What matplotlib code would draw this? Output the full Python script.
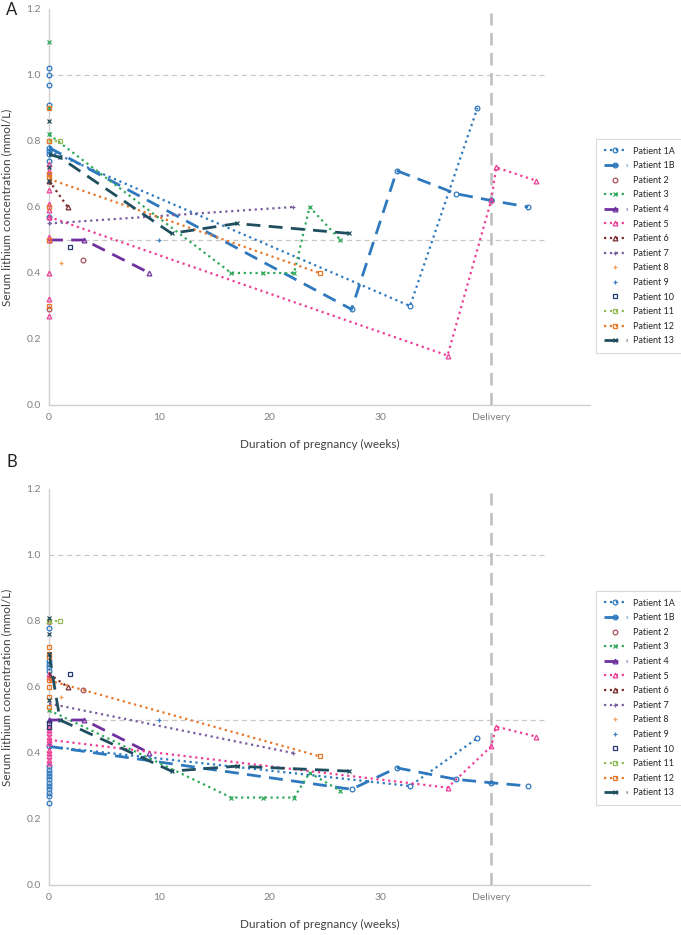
import matplotlib
matplotlib.use("Agg")
import matplotlib.pyplot as plt

plt.rcParams['font.family'] = ['Lato', 'DejaVu Sans']

# ---------------- data ----------------
patients = ["Patient 1A", "Patient 1B", "Patient 2", "Patient 3", "Patient 4", "Patient 5",
            "Patient 6", "Patient 7", "Patient 8", "Patient 9", "Patient 10", "Patient 11",
            "Patient 12", "Patient 13"]

# weeks of pregnancy for each series
w_1A = [0, 32.7, 38.8]
w_1B = [0, 27.4, 31.5, 36.9, 40.0, 43.4]
w_2 = [3.1]
w_3 = [0, 16.5, 19.4, 22.2, 23.6, 26.4]
w_4 = [0, 3.2, 9.1]
w_5 = [0, 36.1, 40.05, 40.5, 44.1]
w_6 = [0, 1.7]
w_7 = [0, 22.1]
w_8 = [1.1]
w_9 = [10.0]
w_10 = [1.9]
w_11 = [0, 1.0]
w_12 = [0, 24.5]
w_13 = [0, 1.0, 11.1, 17.0, 27.2]

# panel A: serum lithium concentration (mmol/L)
A_1A = [0.77, 0.30, 0.90]
A_1B = [0.78, 0.29, 0.71, 0.64, 0.62, 0.60]
A_2 = [0.44]
A_3 = [0.82, 0.40, 0.40, 0.40, 0.60, 0.50]
A_4 = [0.50, 0.50, 0.40]
A_5 = [0.57, 0.15, 0.62, 0.72, 0.68]
A_6 = [0.68, 0.60]
A_7 = [0.55, 0.60]
A_8 = [0.43]
A_9 = [0.50]
A_10 = [0.48]
A_11 = [0.80, 0.80]
A_12 = [0.685, 0.40]
A_13 = [0.76, 0.75, 0.52, 0.55, 0.52]

# panel B
B_1A = [0.42, 0.30, 0.445]
B_1B = [0.42, 0.29, 0.355, 0.32, 0.31, 0.30]
B_2 = [0.59]
B_3 = [0.53, 0.265, 0.265, 0.265, 0.34, 0.285]
B_4 = [0.50, 0.50, 0.40]
B_5 = [0.44, 0.295, 0.42, 0.48, 0.45]
B_6 = [0.64, 0.60]
B_7 = [0.55, 0.40]
B_8 = [0.57]
B_9 = [0.50]
B_10 = [0.64]
B_11 = [0.80, 0.80]
B_12 = [0.62, 0.39]
B_13 = [0.70, 0.50, 0.345, 0.36, 0.345]

# pre-pregnancy measurements plotted at week 0
preA_1 = [1.02, 1.00, 0.97, 0.91, 0.78, 0.77, 0.76, 0.74, 0.57]
preA_2 = [0.29]
preA_3 = [1.10, 0.90, 0.82, 0.70]
preA_5 = [0.73, 0.71, 0.65, 0.61, 0.59, 0.57, 0.51, 0.50, 0.40, 0.32, 0.27]
preA_6 = [0.68]
preA_7 = [0.55]
preA_11 = [0.80]
preA_12 = [0.90, 0.80, 0.70, 0.69, 0.60, 0.50, 0.30]
preA_13 = [0.86, 0.72, 0.68]

preB_1 = [0.78, 0.68, 0.67, 0.66, 0.65, 0.42, 0.36, 0.35, 0.34, 0.33, 0.32, 0.31, 0.30,
          0.29, 0.28, 0.27, 0.25]
preB_3 = [0.53]
preB_4 = [0.50]
preB_5 = [0.64, 0.63, 0.48, 0.47, 0.46, 0.45, 0.44, 0.43, 0.41, 0.40, 0.39, 0.38, 0.37]
preB_6 = [0.80]
preB_10 = [0.49, 0.48]
preB_11 = [0.80]
preB_12 = [0.72, 0.70, 0.69, 0.62, 0.60, 0.57, 0.54]
preB_13 = [0.81, 0.76, 0.70, 0.56]

x_ticks = [0, 10, 20, 30, 40]
x_ticklabels = ["0", "10", "20", "30", "Delivery"]
y_ticks = [0.0, 0.2, 0.4, 0.6, 0.8, 1.0, 1.2]

# ---------------- styles ----------------
BLUE = "#2E78BE"
styles = {
    "Patient 1A": dict(color=BLUE, ls=":", lw=1.6, marker="o"),
    "Patient 1B": dict(color=BLUE, ls=(0, (5, 3)), lw=2.0, marker="o"),
    "Patient 2": dict(color="#A9505A", ls="none", lw=1.0, marker="o"),
    "Patient 3": dict(color="#2FA85A", ls=":", lw=1.6, marker="x"),
    "Patient 4": dict(color="#7030A0", ls=(0, (5, 3)), lw=2.0, marker="^"),
    "Patient 5": dict(color="#EE3F97", ls=":", lw=1.6, marker="^"),
    "Patient 6": dict(color="#7A2E2E", ls=":", lw=1.6, marker="^"),
    "Patient 7": dict(color="#7B5E9E", ls=":", lw=1.6, marker="+"),
    "Patient 8": dict(color="#F2A05A", ls="none", lw=1.0, marker="+"),
    "Patient 9": dict(color="#3D7CC0", ls="none", lw=1.0, marker="+"),
    "Patient 10": dict(color="#23386E", ls="none", lw=1.0, marker="s"),
    "Patient 11": dict(color="#92BB55", ls=":", lw=1.6, marker="s"),
    "Patient 12": dict(color="#E8772A", ls=":", lw=1.6, marker="s"),
    "Patient 13": dict(color="#1F4E5E", ls=(0, (5, 3)), lw=2.0, marker="x"),
}

weeks = [w_1A, w_1B, w_2, w_3, w_4, w_5, w_6, w_7, w_8, w_9, w_10, w_11, w_12, w_13]
vals_A = [A_1A, A_1B, A_2, A_3, A_4, A_5, A_6, A_7, A_8, A_9, A_10, A_11, A_12, A_13]
vals_B = [B_1A, B_1B, B_2, B_3, B_4, B_5, B_6, B_7, B_8, B_9, B_10, B_11, B_12, B_13]
pre_A = {"Patient 1A": preA_1, "Patient 2": preA_2, "Patient 3": preA_3, "Patient 5": preA_5,
         "Patient 6": preA_6, "Patient 7": preA_7, "Patient 11": preA_11,
         "Patient 12": preA_12, "Patient 13": preA_13}
pre_B = {"Patient 1A": preB_1, "Patient 3": preB_3, "Patient 4": preB_4, "Patient 5": preB_5,
         "Patient 6": preB_6, "Patient 10": preB_10, "Patient 11": preB_11,
         "Patient 12": preB_12, "Patient 13": preB_13}

W, H = 681, 935
fig = plt.figure(figsize=(W / 100, H / 100), dpi=100)

TICK_C = "#7F7F7F"
TEXT_C = "#404040"
MS = 3.4


def make_panel(bottom_px, vals, pre, letter, legend_center_px):
    ax = fig.add_axes([49 / W, 1 - bottom_px / H, 541 / W, 396 / H])
    ax.set_xlim(0, 49)
    ax.set_ylim(0, 1.2)
    for s in ["top", "right"]:
        ax.spines[s].set_visible(False)
    for s in ["left", "bottom"]:
        ax.spines[s].set_color("#D0D0D0")
        ax.spines[s].set_linewidth(1.0)
    ax.set_xticks(x_ticks)
    ax.set_xticklabels(x_ticklabels)
    ax.set_yticks(y_ticks)
    ax.set_yticklabels([f"{v:.1f}" for v in y_ticks])
    ax.tick_params(length=0, labelsize=7.5, labelcolor=TICK_C, pad=6)
    ax.hlines([0.5, 1.0], 0, 45, colors="#C8C8C8", linestyles=(0, (4, 3)), lw=0.9, zorder=1)
    ax.axvline(40, 0, 0.99, color="#BDBDBD", ls=(0, (5, 3)), lw=1.8, zorder=1)

    handles = []
    for name, w, v in zip(patients, weeks, vals):
        st = styles[name]
        ln, = ax.plot(w, v, color=st["color"], ls=st["ls"], lw=st["lw"], marker=st["marker"],
                      ms=MS, mew=0.9, mfc="none", label=name, zorder=3)
        handles.append(ln)
        if name in pre:
            p = pre[name]
            ax.plot([0] * len(p), p, ls="none", color=st["color"], marker=st["marker"],
                    ms=MS, mew=0.9, mfc="none", zorder=3, clip_on=False)

    ax.set_ylabel("Serum lithium concentration (mmol/L)", fontsize=8.5, color=TEXT_C, labelpad=10)
    ax.set_xlabel("Duration of pregnancy (weeks)", fontsize=8.5, color=TEXT_C, labelpad=12)
    fig.text(6 / W, 1 - (letter[1]) / H, letter[0], fontsize=12, color="#222222",
             ha="left", va="center")

    leg = fig.legend(handles=handles, loc="center", bbox_to_anchor=(legend_center_px[0] / W,
                     1 - legend_center_px[1] / H), bbox_transform=fig.transFigure,
                     fontsize=6.5, frameon=True, fancybox=False, handlelength=2.6,
                     handletextpad=0.6, labelspacing=0.62, borderpad=0.8, markerscale=1.0)
    leg.get_frame().set_edgecolor("#D0D0D0")
    leg.get_frame().set_linewidth(0.8)
    for t in leg.get_texts():
        t.set_color("#262626")
    return ax


make_panel(405, vals_A, pre_A, ("A", 10), (639, 246))
make_panel(885, vals_B, pre_B, ("B", 462), (639, 698))

fig.savefig("out.png", dpi=100)
